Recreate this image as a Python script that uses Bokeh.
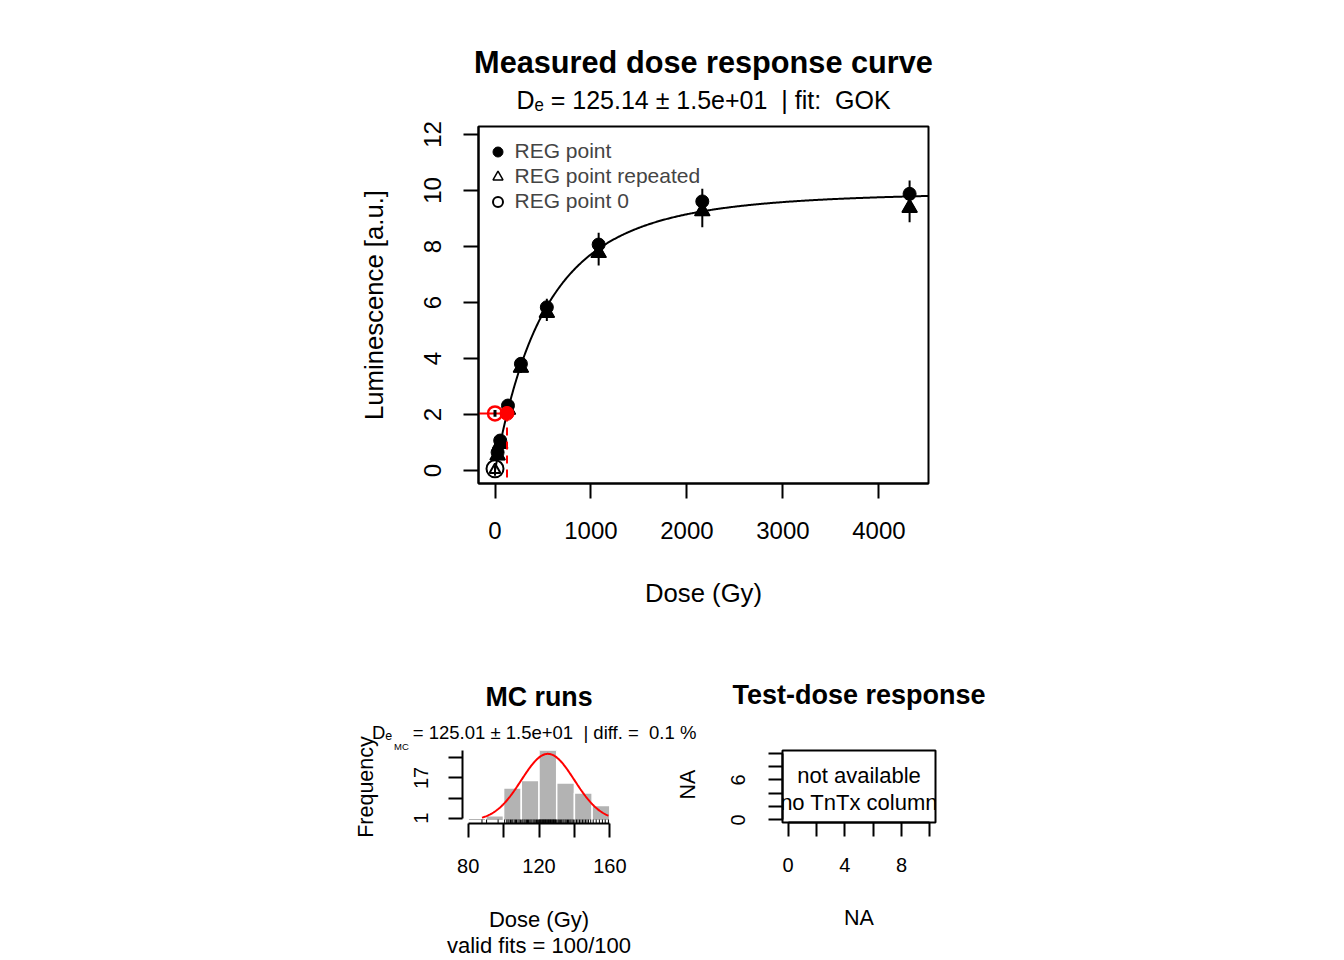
import numpy as np
from bokeh.plotting import figure
from bokeh.models import Legend, LegendItem, FixedTicker, Range1d, Title, LinearAxis
from bokeh.layouts import column, row
from bokeh.core.properties import value
from bokeh.embed import file_html
from bokeh.resources import INLINE

FONT = "Liberation Sans"
NB = "\u00a0"

# ---------------- data ----------------
reg_dose = [27, 54, 135, 270, 540, 1080, 2160, 4320]
reg_lxtx = [0.65, 1.07, 2.32, 3.81, 5.83, 8.07, 9.61, 9.88]
reg_err = [0.04, 0.06, 0.12, 0.20, 0.30, 0.42, 0.45, 0.48]
rep_lxtx = [0.54, 0.95, 2.17, 3.67, 5.63, 7.77, 9.26, 9.38]
rep_err = [0.03, 0.05, 0.11, 0.19, 0.29, 0.45, 0.57, 0.51]
zero_dose = [0]
zero_lxtx = [0.06]
zero_rep_lxtx = [0.02]
natural_lxtx = 2.04
natural_err = 0.12
de_value = 125.14
# GOK fit parameters
fit_a, fit_b, fit_c = 9.95, 530.0, 0.3

dose_ticks = [0, 1000, 2000, 3000, 4000]
lum_ticks = [0, 2, 4, 6, 8, 10, 12]

mc_de = [87.8, 90.4, 96.9,
         100.6, 101.8, 102.5, 103.1, 103.9, 104.6, 105.2, 106.0, 106.7, 107.3, 108.1, 108.8, 109.5,
         110.3, 110.9, 111.6, 112.2, 112.9, 113.5, 114.1, 114.8, 115.4, 116.0, 116.7, 117.3, 117.9,
         118.6, 119.2, 119.8,
         120.2, 120.5, 120.9, 121.2, 121.6, 121.9, 122.3, 122.6, 123.0, 123.3, 123.7, 124.0, 124.4,
         124.7, 125.1, 125.4, 125.8, 126.1, 126.5, 126.8, 127.2, 127.5, 127.9, 128.2, 128.6, 128.9,
         129.3, 129.7,
         130.2, 130.9, 131.5, 132.2, 132.8, 133.5, 134.1, 134.8, 135.4, 136.1, 136.7, 137.4, 138.0,
         138.7, 139.4,
         140.3, 141.2, 142.0, 142.9, 143.7, 144.6, 145.4, 146.3, 147.1, 148.0, 149.2,
         150.6, 152.3, 154.1, 155.8, 157.4, 159.2]
mc_breaks = [80, 90, 100, 110, 120, 130, 140, 150, 160]
mc_mean, mc_sd, mc_n = 125.01, 15.0, 100
mc_x_ticks = [80, 100, 120, 140, 160]
mc_y_ticks = [1, 9, 17, 25]

td_ticks = [0, 2, 4, 6, 8, 10]


# ---------------- helpers ----------------
def to_data(frame, rng, px, py):
    l, r, t, b = frame
    x0, x1, y0, y1 = rng
    return (x0 + (px - l) / (r - l) * (x1 - x0), y0 + (b - py) / (b - t) * (y1 - y0))


def style_axes(fig, xt, yt, lab_size, tick_out, xs, ys):
    for ax in (fig.xaxis[0], fig.yaxis[0]):
        ax.axis_line_width = 2
        ax.axis_line_color = "black"
        ax.major_tick_line_width = 2
        ax.major_tick_line_color = "black"
        ax.major_tick_out = tick_out
        ax.major_tick_in = 0
        ax.minor_tick_line_color = None
        ax.major_label_text_font = FONT
        ax.major_label_text_font_size = lab_size
        ax.major_label_text_color = "black"
        ax.axis_label_text_font = FONT
        ax.axis_label_text_font_style = "normal"
        ax.axis_label_text_color = "black"
    fig.xaxis[0].ticker = FixedTicker(ticks=xt, minor_ticks=[])
    fig.yaxis[0].ticker = FixedTicker(ticks=yt, minor_ticks=[])
    fig.yaxis[0].major_label_orientation = "vertical"
    fig.xaxis[0].major_label_standoff = xs
    fig.yaxis[0].major_label_standoff = ys
    fig.xgrid.visible = False
    fig.ygrid.visible = False


def add_title(fig, text, size, standoff, bold=True, align="center", offset=0):
    fig.add_layout(Title(text=text, align=align, offset=offset, text_font=FONT,
                         text_font_size=size, text_font_style="bold" if bold else "normal",
                         text_color="black", standoff=standoff), "above")


def make_fig(frame, rng, canvas_left, canvas_top, canvas_w, canvas_h):
    l, r, t, b = frame
    return figure(frame_width=r - l, frame_height=b - t,
                  x_range=Range1d(rng[0], rng[1]), y_range=Range1d(rng[2], rng[3]),
                  output_backend="svg", toolbar_location=None,
                  min_border_left=l - canvas_left, min_border_right=canvas_left + canvas_w - r,
                  min_border_top=t - canvas_top, min_border_bottom=canvas_top + canvas_h - b)


# ---------------- main plot ----------------
M_FRAME = (478, 928, 126, 483)
M_RNG = (-172.0, 4517.0, -0.464, 12.286)
p = make_fig(M_FRAME, M_RNG, 0, 0, 1336, 620)
p.outline_line_color = "black"
p.outline_line_width = 2
p.background_fill_color = "white"
p.border_fill_color = "white"
style_axes(p, dose_ticks, lum_ticks, "24px", 15, 23, 22)
p.xaxis[0].axis_label = "Dose (Gy)"
p.xaxis[0].axis_label_text_font_size = "25.7px"
p.xaxis[0].axis_label_standoff = 37
p.yaxis[0].axis_label = "Luminescence [a.u.]"
p.yaxis[0].axis_label_text_font_size = "25.7px"
p.yaxis[0].axis_label_standoff = 34

# fitted curve
x_fit = np.linspace(0, M_RNG[1], 500)
y_fit = fit_a * (1 - (1 + fit_c * x_fit / fit_b) ** (-1 / fit_c))
p.line(x_fit, y_fit, line_color="black", line_width=2)

# error bars
reg_lo = [v - e for v, e in zip(reg_lxtx, reg_err)]
reg_hi = [v + e for v, e in zip(reg_lxtx, reg_err)]
rep_lo = [v - e for v, e in zip(rep_lxtx, rep_err)]
rep_hi = [v + e for v, e in zip(rep_lxtx, rep_err)]
p.segment(reg_dose, reg_lo, reg_dose, reg_hi, line_color="black", line_width=2)
p.segment(reg_dose, rep_lo, reg_dose, rep_hi, line_color="black", line_width=2)

r_reg = p.scatter(reg_dose, reg_lxtx, marker="circle", size=13, fill_color="black",
                  line_color="black")
p.scatter(reg_dose, rep_lxtx, marker="triangle", size=15, fill_color="black",
          line_color="black")
r_rep = p.scatter(reg_dose, rep_lxtx, marker="triangle", size=15, fill_color=None,
                  line_color="black", line_width=1.5)

# zero point
r_zero = p.scatter(zero_dose, zero_lxtx, marker="circle", size=17, fill_color=None,
                   line_color="black", line_width=2)
p.scatter(zero_dose, zero_rep_lxtx, marker="triangle", size=11, fill_color=None,
          line_color="black", line_width=2)
p.segment(zero_dose, [zero_lxtx[0] - 0.25], zero_dose, [zero_lxtx[0] + 0.1],
          line_color="black", line_width=2)

# De interpolation (red)
p.segment([M_RNG[0]], [natural_lxtx], [de_value], [natural_lxtx], line_color="red", line_width=2)
p.segment([de_value], [natural_lxtx], [de_value], [M_RNG[2]], line_color="red", line_width=2,
          line_dash="8 6")
p.scatter([0], [natural_lxtx], marker="circle", size=14, fill_color=None, line_color="red",
          line_width=2.5)
p.segment([0], [natural_lxtx - natural_err], [0], [natural_lxtx + natural_err],
          line_color="black", line_width=3)
p.scatter([de_value], [natural_lxtx], marker="circle", size=14, fill_color="red",
          line_color="red")

legend = Legend(items=[LegendItem(label="REG point", renderers=[r_reg]),
                       LegendItem(label="REG point repeated", renderers=[r_rep]),
                       LegendItem(label="REG point 0", renderers=[r_zero])],
                location=(6.5, 269.5), margin=0, padding=0, spacing=0,
                glyph_width=25, glyph_height=25, label_height=25, label_standoff=5,
                label_text_font=FONT, label_text_font_size="21px",
                border_line_color=None, background_fill_alpha=0)
p.add_layout(legend)

# subtitle (nearest the frame), then the main title
add_title(p, "D\u2091 = 125.14 \u00b1 1.5e+01 " + NB + "| fit: " + NB + "GOK", "25px", 25,
          bold=False)
add_title(p, "Measured dose response curve", "30.7px", -16)

# ---------------- MC histogram ----------------
ROW_TOP = 620
ROW_H = 340
H_W = 725
# frame top shared with the test-dose panel (row alignment); no box is drawn here
H_FRAME = (462, 615, 750, 823)
H_RNG = (76.8, 163.2, -1.12, 27.93)
h = make_fig(H_FRAME, H_RNG, 0, ROW_TOP, H_W, ROW_H)
h.outline_line_color = None
h.background_fill_color = "white"
h.border_fill_color = "white"
style_axes(h, mc_x_ticks, mc_y_ticks, "20px", 14, 21, 20)
h.xaxis[0].bounds = (mc_breaks[0], mc_breaks[-1])
h.yaxis[0].bounds = (1, 28)
h.xaxis[0].major_label_overrides = {100: "", 140: ""}
h.yaxis[0].major_label_overrides = {9: "", 25: ""}
h.xaxis[0].axis_label = "Dose (Gy)\nvalid fits = 100/100"
h.xaxis[0].axis_label_text_font_size = "22px"
h.xaxis[0].axis_label_text_line_height = 1.06
h.xaxis[0].axis_label_standoff = 31
h.yaxis[0].axis_label = "Frequency"
h.yaxis[0].axis_label_text_font_size = "21.5px"
h.yaxis[0].axis_label_standoff = 34

counts, edges = np.histogram(mc_de, bins=mc_breaks)
h.quad(left=edges[:-1], right=edges[1:], bottom=0, top=counts, fill_color="#b3b3b3",
       line_color="white", line_width=1.5)
h.segment(mc_de, [H_RNG[2]] * len(mc_de), mc_de, [0.47] * len(mc_de), line_color="black",
          line_width=1)
xn = np.linspace(min(mc_de), max(mc_de), 200)
bw = mc_breaks[1] - mc_breaks[0]
yn = mc_n * bw / (mc_sd * np.sqrt(2 * np.pi)) * np.exp(-0.5 * ((xn - mc_mean) / mc_sd) ** 2)
h.line(xn, yn, line_color="red", line_width=2)

# stacked above the frame: sub-subscript "MC", the subtitle line, the title
add_title(h, "MC", "9.5px", -2, bold=False, align="left", offset=393.5 - H_FRAME[0])
add_title(h, "D\u2091" + NB * 4 + "= 125.01 \u00b1 1.5e+01 " + NB + "| diff. = " + NB + "0.1 %",
          "18.5px", -7, bold=False, align="left", offset=371.5 - H_FRAME[0])
add_title(h, "MC runs", "26.8px", 23)

# y label of the test-dose panel (lies left of that panel's canvas): carried by a bare right axis
na_y = 8.4
na_axis = LinearAxis(ticker=FixedTicker(ticks=[na_y], minor_ticks=[]),
                     major_label_overrides={na_y: "NA"}, axis_line_color=None,
                     major_tick_line_color=None, minor_tick_line_color=None,
                     major_label_text_font=FONT, major_label_text_font_size="21.5px",
                     major_label_text_color="black", major_label_orientation=np.pi / 2,
                     major_label_standoff=67)
h.add_layout(na_axis, "right")

# ---------------- Test-dose response ----------------
T_W = 1336 - H_W
T_FRAME = (782, 935, 750, 822)
T_RNG = (-0.4, 10.4, -0.4, 10.4)
t = make_fig(T_FRAME, T_RNG, H_W, ROW_TOP, T_W, ROW_H)
t.outline_line_color = "black"
t.outline_line_width = 2
t.background_fill_color = "white"
t.border_fill_color = "white"
style_axes(t, td_ticks, td_ticks, "20px", 14, 21, 23)
t.xaxis[0].bounds = (0, 10)
t.yaxis[0].bounds = (0, 10)
t.xaxis[0].major_label_overrides = {2: "", 6: "", 10: ""}
t.yaxis[0].major_label_overrides = {2: "", 4: "", 8: "", 10: ""}
t.xaxis[0].axis_label = "NA"
t.xaxis[0].axis_label_text_font_size = "21.5px"
t.xaxis[0].axis_label_standoff = 31

tx, ty1 = to_data(T_FRAME, T_RNG, 858.5, 775)
_, ty2 = to_data(T_FRAME, T_RNG, 858.5, 802)
t.text(x=[tx, tx], y=[ty1, ty2], text=["not available", "no TnTx column"],
       text_font=value(FONT), text_font_size="22px", text_align="center",
       text_baseline="middle", text_color="black")

add_title(t, "Test-dose response", "27px", 81)

layout = column(p, row(h, t, spacing=0), spacing=0)

with open("out.html", "w") as f:
    f.write(file_html(layout, INLINE))
